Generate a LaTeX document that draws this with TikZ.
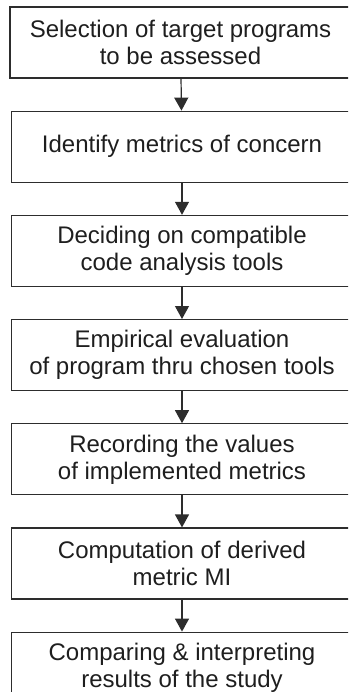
\documentclass[tikz,border=0pt]{standalone}
\usepackage{fontspec}
\setmainfont{Liberation Sans}
\usetikzlibrary{positioning,arrows.meta}
\definecolor{bordo}{RGB}{45,45,45}
\definecolor{testo}{RGB}{30,30,30}
\begin{document}
\begin{tikzpicture}[x=1pt,y=-1pt,font=\fontsize{24}{27}\selectfont,
  fase/.style={draw=bordo,line width=1.2pt,text=testo,align=center,
    minimum width=341pt,minimum height=71pt,inner sep=0pt},
  freccia/.style={draw=bordo,line width=1.2pt,-{Triangle[width=14pt,length=13pt]}}]
\useasboundingbox (0,0) rectangle (348,692);
\clip (0,0) rectangle (348,692);
 %fasi
\node[fase] (f1) at (180.5,42.5) {Selection of target programs\\to be assessed};
\node[fase,below=32pt of f1,xshift=1.5pt] (f2) {Identify metrics of concern};
\node[fase,below=32pt of f2] (f3) {Deciding on compatible\\code analysis tools};
\node[fase,below=32pt of f3] (f4) {Empirical evaluation\\of program thru chosen tools};
\node[fase,below=32pt of f4] (f5) {Recording the values\\of implemented metrics};
\node[fase,below=32pt of f5] (f6) {Computation of derived\\metric MI};
\node[fase,below=32pt of f6] (f7) {Comparing \& interpreting\\results of the study};
%frecce
\foreach \a/\b in {f1/f2,f2/f3,f3/f4,f4/f5,f5/f6,f6/f7}
   \draw[freccia] (\a) -- (\b);
\end{tikzpicture}
\end{document}
